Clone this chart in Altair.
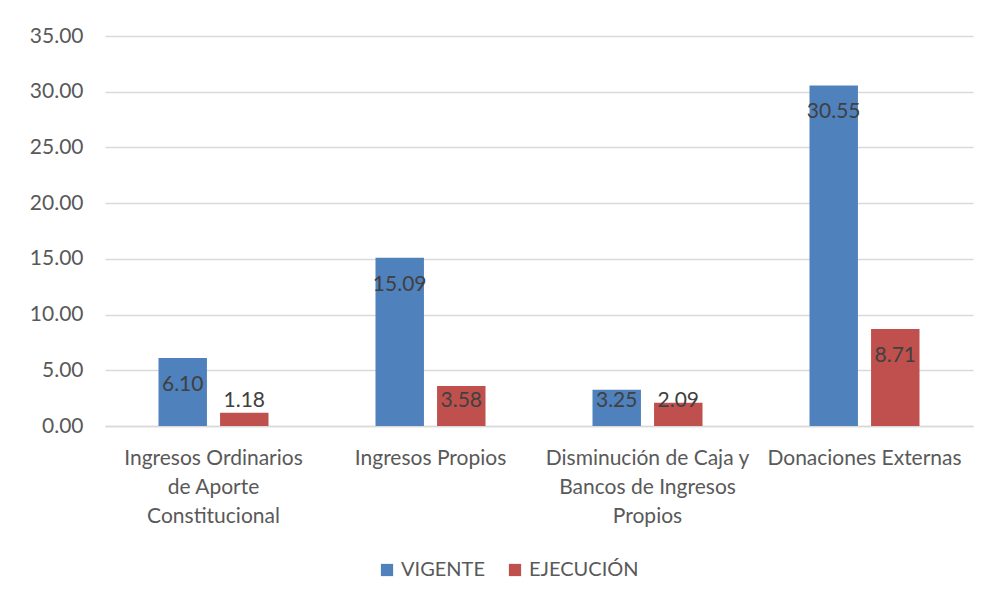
import altair as alt
import pandas as pd

categories = [
    "Ingresos Ordinarios de Aporte Constitucional",
    "Ingresos Propios",
    "Disminución de Caja y Bancos de Ingresos Propios",
    "Donaciones Externas",
]
wrapped = [
    "Ingresos Ordinarios|de Aporte|Constitucional",
    "Ingresos Propios",
    "Disminución de Caja y|Bancos de Ingresos|Propios",
    "Donaciones Externas",
]
series = ["VIGENTE", "EJECUCIÓN"]
vigente = [6.10, 15.09, 3.25, 30.55]
ejecucion = [1.18, 3.58, 2.09, 8.71]
colors = ["#4F81BD", "#C0504D"]

rows = []
for c, w, v, e in zip(categories, wrapped, vigente, ejecucion):
    rows.append({"cat": w, "serie": "VIGENTE", "value": v})
    rows.append({"cat": w, "serie": "EJECUCIÓN", "value": e})
df = pd.DataFrame(rows)

FONT = "Lato"
FS = 21

x = alt.X("cat:N", sort=wrapped, title=None,
          scale=alt.Scale(paddingInner=0.493, paddingOuter=0.2465),
          axis=alt.Axis(labelExpr="split(datum.label, '|')", labelAngle=0,
                        labelFont=FONT, labelFontSize=FS, labelColor="#595959",
                        labelPadding=21, labelLineHeight=29, ticks=False,
                        labelOverlap=False, labelBound=False,
                        domainColor="#D9D9D9", domainWidth=1.5, labelLimit=400))
xo = alt.XOffset("serie:N", sort=series,
                 scale=alt.Scale(paddingInner=0.213, paddingOuter=0))

base = alt.Chart(df)

bars = base.mark_bar().encode(
    x=x, xOffset=xo,
    y=alt.Y("value:Q", title=None,
            scale=alt.Scale(domain=[0, 35]),
            axis=alt.Axis(values=[0, 5, 10, 15, 20, 25, 30, 35], format=".2f",
                          labelFont=FONT, labelFontSize=FS, labelColor="#595959",
                          labelPadding=22, ticks=False, domain=False,
                          gridColor="#D9D9D9", gridWidth=1.5)),
    color=alt.Color("serie:N", sort=series,
                    scale=alt.Scale(domain=series, range=colors),
                    legend=alt.Legend(title=None, orient="none", direction="horizontal",
                                      legendX=272, legendY=524,
                                      labelFont=FONT, labelFontSize=20, labelColor="#595959",
                                      symbolType="square", symbolSize=150,
                                      symbolStrokeWidth=0, columnPadding=20)),
)

labels = base.transform_calculate(
    ly="max(datum.value - 2.4, 2.24)"
).mark_text(font=FONT, fontSize=FS, color="#404040", baseline="middle").encode(
    x=x, xOffset=xo,
    y=alt.Y("ly:Q"),
    text=alt.Text("value:Q", format=".2f"),
)

chart = (bars + labels).properties(
    width=868, height=390,
    autosize=alt.AutoSizeParams(type="none"),
    padding={"left": 97, "top": 28, "right": 8, "bottom": 165},
).configure_view(stroke=None)

chart.save("out.html", embed_options={"renderer": "svg", "actions": False})
